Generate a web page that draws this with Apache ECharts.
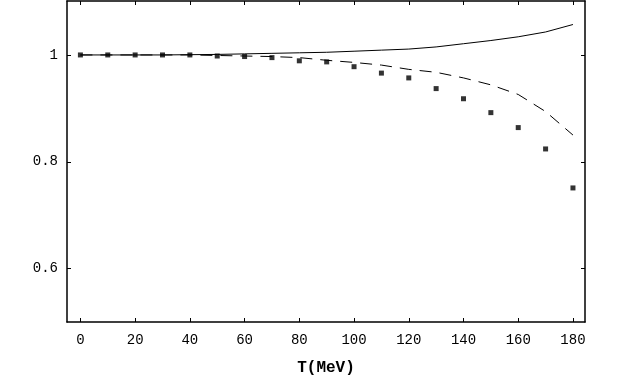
<!DOCTYPE html>
<html>
<head>
<meta charset="utf-8">
<script src="https://cdn.jsdelivr.net/npm/echarts@6/dist/echarts.min.js"></script>
<style>html,body{margin:0;padding:0;background:#fff}#c{width:620px;height:382px}</style>
</head>
<body>
<div id="c"></div>
<script>
const T = [0,10,20,30,40,50,60,70,80,90,100,110,120,130,140,150,160,170,180];
const dots = [1.0,1.0,1.0,1.0,1.0,0.998,0.997,0.995,0.989,0.987,0.978,0.966,0.957,0.937,0.918,0.892,0.864,0.824,0.751];
const solid = [1.0,1.0,1.0,1.0,1.0005,1.001,1.002,1.003,1.004,1.005,1.007,1.009,1.011,1.015,1.021,1.027,1.034,1.043,1.057];
const dashed = [1.0,1.0,1.0,1.0,1.0,0.999,0.998,0.997,0.995,0.990,0.986,0.981,0.973,0.9675,0.957,0.944,0.926,0.894,0.85];
const xTicks = [0,20,40,60,80,100,120,140,160,180];
const yTicks = [0.6,0.8,1];
const xName = 'T(MeV)';

const pair = arr => T.map((t,i)=>[t,arr[i]]);
const font = 'Liberation Mono';
const axisLineStyle = {color:'#000', width:1.5};
const chart = echarts.init(document.getElementById('c'));
const xBase = {
  type:'value', min:-4.9, max:184.4,
  axisLine:{show:true, onZero:false, lineStyle:axisLineStyle},
  axisTick:{show:true, inside:true, length:4, customValues:xTicks, lineStyle:{color:'#000',width:1}},
  splitLine:{show:false}
};
const yBase = {
  type:'value', min:0.5, max:1.101,
  axisLine:{show:true, onZero:false, lineStyle:axisLineStyle},
  axisTick:{show:true, inside:true, length:4, customValues:yTicks, lineStyle:{color:'#000',width:1}},
  splitLine:{show:false}
};
chart.setOption({
  animation:false,
  backgroundColor:'#fff',
  grid:{left:67, right:35, top:1, bottom:60},
  xAxis:[
    Object.assign({}, xBase, {position:'bottom',
      name:xName, nameLocation:'middle', nameGap:38,
      nameTextStyle:{fontFamily:font, fontWeight:'bold', fontSize:16, color:'#000'},
      axisLabel:{show:true, customValues:xTicks, fontFamily:font, fontSize:14, color:'#000', margin:11}}),
    Object.assign({}, xBase, {position:'top', axisLabel:{show:false}})
  ],
  yAxis:[
    Object.assign({}, yBase, {position:'left',
      axisLabel:{show:true, customValues:yTicks, fontFamily:font, fontSize:14, color:'#000', margin:9}}),
    Object.assign({}, yBase, {position:'right', axisLabel:{show:false}})
  ],
  series:[
    {type:'line', data:pair(solid), showSymbol:false, lineStyle:{color:'#000', width:1}},
    {type:'line', data:pair(dashed), showSymbol:false, lineStyle:{color:'#000', width:1, type:[12,8]}},
    {type:'scatter', data:pair(dots), symbol:'rect', symbolSize:5, itemStyle:{color:'#000'}}
  ]
});
</script>
</body>
</html>
